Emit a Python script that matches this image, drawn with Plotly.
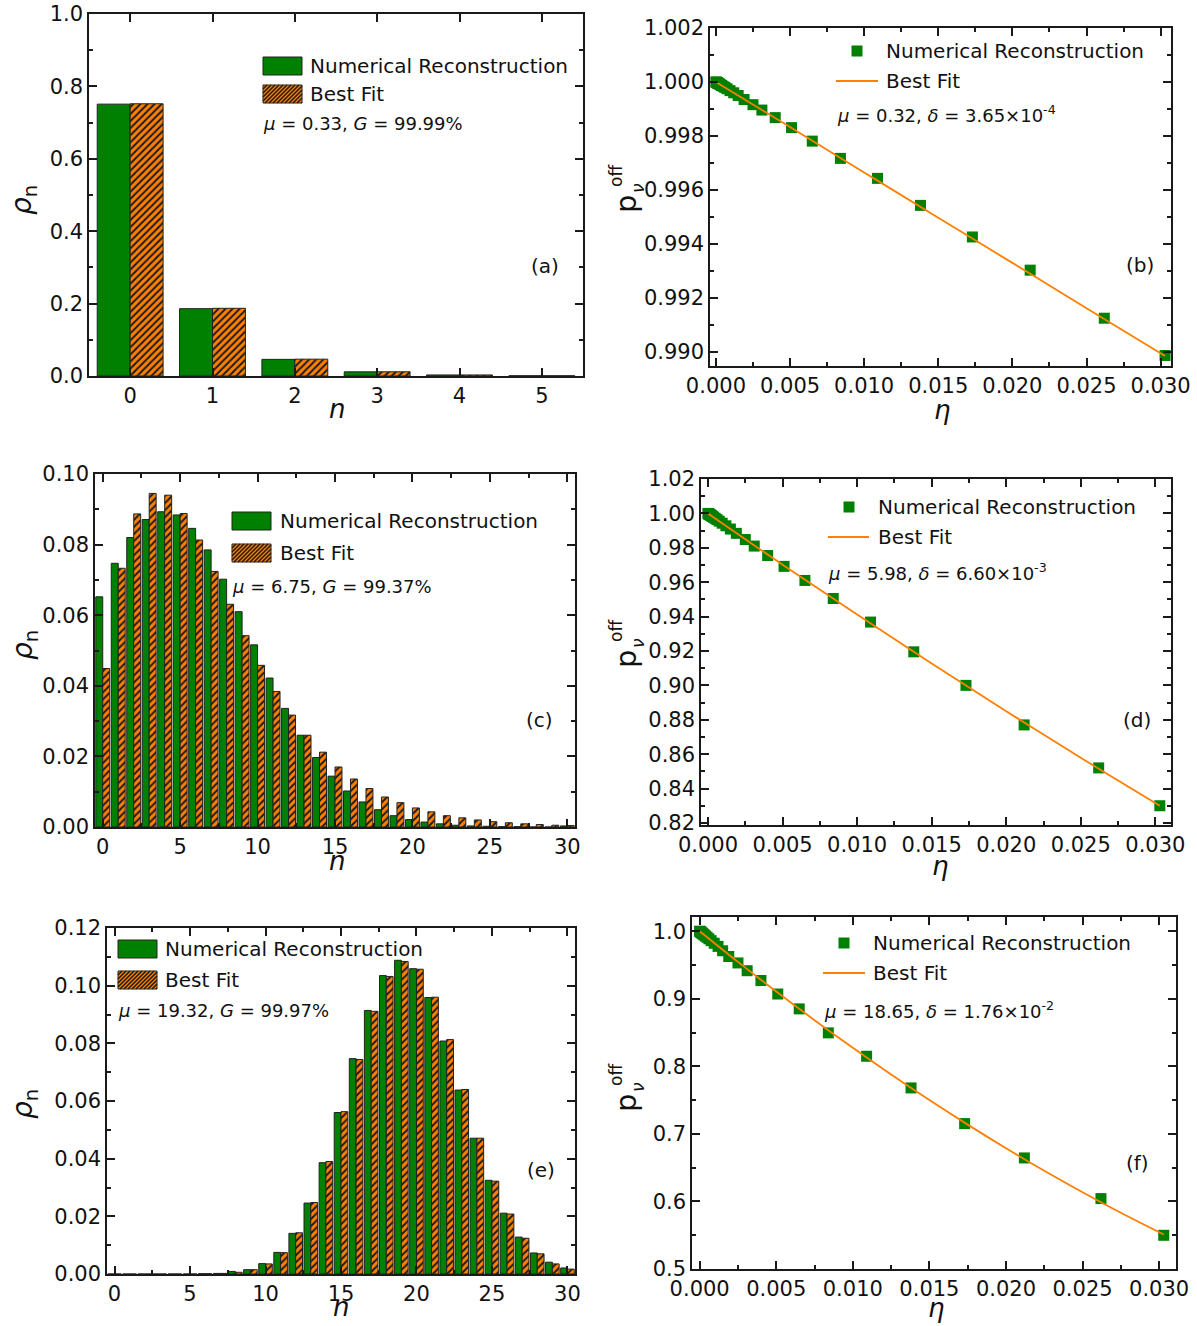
import plotly.graph_objects as go

# ---------------------------------------------------------------- data
# photon-number distributions (left column)
n_a = [0, 1, 2, 3, 4, 5]
rho_a_num = [0.751, 0.186, 0.046, 0.0115, 0.0029, 0.0007]
rho_a_fit = [0.752, 0.187, 0.0465, 0.0116, 0.0029, 0.0007]

n_c = list(range(31))
rho_c_num = [0.0652, 0.0747, 0.0820, 0.0871, 0.0893, 0.0884, 0.0846, 0.0785, 0.0702, 0.0610,
             0.0516, 0.0422, 0.0336, 0.0260, 0.0197, 0.0144, 0.0102, 0.0071, 0.0049, 0.0032,
             0.0021, 0.0014, 0.0009, 0.0005, 0.0003, 0.0002, 0.0001, 0.0001, 0.0000, 0.0000,
             0.0003]
rho_c_fit = [0.0449, 0.0733, 0.0887, 0.0945, 0.0940, 0.0888, 0.0813, 0.0724, 0.0631, 0.0542,
             0.0458, 0.0384, 0.0317, 0.0260, 0.0212, 0.0170, 0.0136, 0.0109, 0.0085, 0.0069,
             0.0054, 0.0043, 0.0032, 0.0026, 0.0020, 0.0015, 0.0012, 0.0009, 0.0007, 0.0005,
             0.0004]

n_e = list(range(31))
rho_e_num = [0.0, 0.0, 0.0, 0.0, 0.0, 0.0, 0.0001, 0.0002, 0.0009, 0.0015,
             0.0036, 0.0075, 0.0141, 0.0246, 0.0386, 0.0560, 0.0747, 0.0914, 0.1035, 0.1088,
             0.1059, 0.0959, 0.0808, 0.0638, 0.0471, 0.0325, 0.0211, 0.0128, 0.0073, 0.0041,
             0.0021]
rho_e_fit = [0.0, 0.0, 0.0, 0.0, 0.0, 0.0, 0.0001, 0.0002, 0.0006, 0.0015,
             0.0035, 0.0074, 0.0143, 0.0248, 0.0390, 0.0563, 0.0744, 0.0911, 0.1032, 0.1084,
             0.1057, 0.0960, 0.0813, 0.0640, 0.0471, 0.0322, 0.0208, 0.0124, 0.0070, 0.0035,
             0.0017]

# no-click probability versus transmittance (right column)
eta = [0.0303, 0.0262, 0.0212, 0.0173, 0.0138, 0.0109, 0.0084, 0.0065, 0.0051, 0.0040,
       0.0031, 0.0025, 0.0019, 0.0015, 0.0012, 0.00095, 0.00075, 0.0006, 0.00048, 0.00038,
       0.0003, 0.00024, 0.00019, 0.00015, 0.00012, 0.0001, 0.00008, 0.00006, 0.00004, 0.00002,
       0.0]
p_b = [0.98987, 0.99125, 0.99303, 0.99426, 0.99543, 0.99643, 0.99717, 0.99781, 0.99831, 0.99868,
       0.99896, 0.99916, 0.99935, 0.99950, 0.99960, 0.99968, 0.99975, 0.99980, 0.99984, 0.99987,
       0.99990, 0.99992, 0.99994, 0.99995, 0.99996, 0.99997, 0.99997, 0.99998, 0.99999, 0.99999,
       1.0]
p_d = [0.8300, 0.8520, 0.8770, 0.9000, 0.9195, 0.9368, 0.9505, 0.9610, 0.9692, 0.9755,
       0.9810, 0.9848, 0.9884, 0.9909, 0.9928, 0.9943, 0.9955, 0.9964, 0.9971, 0.9977,
       0.9982, 0.9986, 0.9989, 0.9991, 0.9993, 0.9994, 0.9995, 0.9996, 0.9998, 0.9999,
       1.0]
p_f = [0.5499, 0.6042, 0.6644, 0.7152, 0.7680, 0.8149, 0.8495, 0.8850, 0.9070, 0.9270,
       0.9415, 0.9530, 0.9625, 0.9710, 0.9775, 0.9822, 0.9860, 0.9888, 0.9910, 0.9929,
       0.9944, 0.9955, 0.9964, 0.9972, 0.9978, 0.9981, 0.9985, 0.9989, 0.9993, 0.9996,
       1.0]

# fitted curves
eta_fit_b = [0.0, 0.005, 0.010, 0.015, 0.020, 0.025, 0.0303]
p_fit_b = [1.0, 0.99833, 0.99665, 0.99497, 0.99330, 0.99162, 0.98985]
eta_fit_d = [0.0, 0.005, 0.010, 0.015, 0.020, 0.025, 0.0303]
p_fit_d = [1.0, 0.9702, 0.9412, 0.9127, 0.8850, 0.8579, 0.8300]
eta_fit_f = [0.0, 0.0025, 0.005, 0.0075, 0.010, 0.0125, 0.015, 0.0175, 0.020, 0.0225,
             0.025, 0.0275, 0.0303]
p_fit_f = [1.0, 0.9546, 0.9107, 0.8683, 0.8274, 0.7879, 0.7501, 0.7137, 0.6788, 0.6454,
           0.6136, 0.5832, 0.5510]

legend_num = "Numerical Reconstruction"
legend_fit = "Best Fit"
info_a = "<i>μ</i> = 0.33, <i>G</i> = 99.99%"
info_b = "<i>μ</i> = 0.32, <i>δ</i> = 3.65×10<sup>-4</sup>"
info_c = "<i>μ</i> = 6.75, <i>G</i> = 99.37%"
info_d = "<i>μ</i> = 5.98, <i>δ</i> = 6.60×10<sup>-3</sup>"
info_e = "<i>μ</i> = 19.32, <i>G</i> = 99.97%"
info_f = "<i>μ</i> = 18.65, <i>δ</i> = 1.76×10<sup>-2</sup>"

# ---------------------------------------------------------------- style
W, H = 1197, 1326
FONT = "DejaVu Sans"
AX = "#1a1a1a"
GREEN = "#008000"
ORANGE = "#FF8000"
LINE_OR = "#FF7F00"


def px(x):
    return x / W


def py(y):
    return 1 - y / H


def dom_x(x0, x1):
    return [px(x0), px(x1)]


def dom_y(y0, y1):
    return [py(y1), py(y0)]


def axis(domain, rng, anchor, dtick, minor_dtick, fmt, tick0=0.0):
    ax = dict(
        domain=domain, range=rng, anchor=anchor, tick0=tick0, dtick=dtick,
        tickmode="linear", tickformat=fmt, showline=True, linecolor=AX, linewidth=1.5,
        mirror="ticks", ticks="inside", ticklen=8, tickwidth=1.5, tickcolor=AX,
        showgrid=False, zeroline=False, automargin=False,
        tickfont=dict(family=FONT, size=21, color="#111"), fixedrange=True,
    )
    if minor_dtick:
        ax["minor"] = dict(ticks="inside", ticklen=4, tickwidth=1.5, tickcolor=AX,
                           dtick=minor_dtick, tick0=tick0, showgrid=False)
    return ax


fig = go.Figure()

bar_line = dict(color="#222222", width=1)
hatch = dict(shape="/", size=5, solidity=0.4, fgcolor="#1a1a1a", bgcolor=ORANGE)


def add_bars(n, num, fit, xa, ya, w):
    fig.add_trace(go.Bar(x=n, y=num, width=w, offset=-w, xaxis=xa, yaxis=ya,
                         marker=dict(color=GREEN, line=bar_line), showlegend=False,
                         name=legend_num))
    fig.add_trace(go.Bar(x=n, y=fit, width=w, offset=0, xaxis=xa, yaxis=ya,
                         marker=dict(color=ORANGE, line=bar_line, pattern=hatch),
                         showlegend=False, name=legend_fit))


def add_curve(e, p, ef, pf, xa, ya):
    fig.add_trace(go.Scatter(x=e, y=p, mode="markers", xaxis=xa, yaxis=ya,
                             marker=dict(symbol="square", size=11, color=GREEN,
                                         line=dict(width=0)),
                             showlegend=False, name=legend_num))
    fig.add_trace(go.Scatter(x=ef, y=pf, mode="lines", xaxis=xa, yaxis=ya,
                             line=dict(color=LINE_OR, width=1.8, shape="spline"),
                             showlegend=False, name=legend_fit))


add_bars(n_a, rho_a_num, rho_a_fit, "x", "y", 0.4)
add_curve(eta, p_b, eta_fit_b, p_fit_b, "x2", "y2")
add_bars(n_c, rho_c_num, rho_c_fit, "x3", "y3", 0.45)
add_curve(eta, p_d, eta_fit_d, p_fit_d, "x4", "y4")
add_bars(n_e, rho_e_num, rho_e_fit, "x5", "y5", 0.45)
add_curve(eta, p_f, eta_fit_f, p_fit_f, "x6", "y6")

layout = dict(
    template="none",
    width=W, height=H, autosize=False, margin=dict(l=0, r=0, t=0, b=0, pad=0),
    paper_bgcolor="white", plot_bgcolor="white", barmode="overlay",
    font=dict(family=FONT, color="#111"), showlegend=False,
)
# panel (a)
layout["xaxis"] = axis(dom_x(89, 583), [-0.5, 5.5], "y", 1, None, "d")
layout["yaxis"] = axis(dom_y(14, 376), [0, 1.0], "x", 0.2, 0.1, ".1f")
# panel (b)
layout["xaxis2"] = axis(dom_x(710, 1171), [-0.0004, 0.0307], "y2", 0.005, 0.0025, ".3f")
layout["yaxis2"] = axis(dom_y(28, 366), [0.98948, 1.002], "x2", 0.002, 0.001, ".3f", 0.990)
# panel (c)
layout["xaxis3"] = axis(dom_x(95, 575), [-0.5, 30.5], "y3", 5, 2.5, "d")
layout["yaxis3"] = axis(dom_y(474, 827), [0, 0.10], "x3", 0.02, 0.01, ".2f")
# panel (d)
layout["xaxis4"] = axis(dom_x(701, 1171), [-0.00047, 0.03105], "y4", 0.005, 0.0025, ".3f")
layout["yaxis4"] = axis(dom_y(479, 825), [0.8188, 1.02], "x4", 0.02, 0.01, ".2f", 0.82)
# panel (e)
layout["xaxis5"] = axis(dom_x(107, 575), [-0.5, 30.5], "y5", 5, 2.5, "d")
layout["yaxis5"] = axis(dom_y(928, 1274), [0, 0.12], "x5", 0.02, 0.01, ".2f")
# panel (f)
layout["xaxis6"] = axis(dom_x(692, 1176), [-0.0005, 0.0311], "y6", 0.005, 0.0025, ".3f")
layout["yaxis6"] = axis(dom_y(917, 1269), [0.5, 1.021], "x6", 0.1, 0.05, ".1f", 0.5)

annotations = []
shapes = []


def text(x, y, s, size=20, anchor="left", angle=0, italic=False):
    annotations.append(dict(
        x=px(x), y=py(y), xref="paper", yref="paper", text=s, showarrow=False,
        xanchor=anchor, yanchor="middle", textangle=angle,
        font=dict(family=FONT, size=size, color="#111",
                  style="italic" if italic else "normal"),
    ))


def path_str(points):
    return " ".join(f"{'M' if i == 0 else 'L'} {px(x):.6f} {py(y):.6f}"
                    for i, (x, y) in enumerate(points))


def green_box(x0, y0, x1, y1):
    shapes.append(dict(type="rect", xref="paper", yref="paper",
                       x0=px(x0), x1=px(x1), y0=py(y1), y1=py(y0),
                       fillcolor=GREEN, line=dict(color="#222222", width=1)))


def hatched_box(x0, y0, x1, y1, period=4.0):
    shapes.append(dict(type="rect", xref="paper", yref="paper",
                       x0=px(x0), x1=px(x1), y0=py(y1), y1=py(y0),
                       fillcolor=ORANGE, line=dict(width=0)))
    h = y1 - y0
    segs = []
    c = x0 - h
    while c < x1:
        t0 = max(0.0, (x0 - c) / h)
        t1 = min(1.0, (x1 - c) / h)
        if t1 > t0:
            a = (c + t0 * h, y1 - t0 * h)
            b = (c + t1 * h, y1 - t1 * h)
            segs.append(path_str([a, b]))
        c += period
    shapes.append(dict(type="path", xref="paper", yref="paper", path=" ".join(segs),
                       line=dict(color="#1a1a1a", width=1.5)))
    shapes.append(dict(type="rect", xref="paper", yref="paper",
                       x0=px(x0), x1=px(x1), y0=py(y1), y1=py(y0),
                       line=dict(color="#222222", width=1)))


def marker_key(cx, cy, s=11):
    shapes.append(dict(type="rect", xref="paper", yref="paper",
                       x0=px(cx - s / 2), x1=px(cx + s / 2), y0=py(cy + s / 2),
                       y1=py(cy - s / 2), fillcolor=GREEN, line=dict(width=0)))


def line_key(x0, x1, y):
    shapes.append(dict(type="line", xref="paper", yref="paper",
                       x0=px(x0), x1=px(x1), y0=py(y), y1=py(y),
                       line=dict(color=LINE_OR, width=1.8)))


def bar_legend(bx0, gy0, oy0, tx, info_x, info_y, info):
    green_box(bx0, gy0, bx0 + 39, gy0 + 18)
    text(tx, gy0 + 9, legend_num)
    hatched_box(bx0, oy0, bx0 + 39, oy0 + 18)
    text(tx, oy0 + 9, legend_fit)
    text(info_x, info_y, info, size=18)


def curve_legend(mx, my, lx0, lx1, ly, tx, info_x, info_y, info):
    marker_key(mx, my)
    text(tx, my, legend_num)
    line_key(lx0, lx1, ly)
    text(tx, ly, legend_fit)
    text(info_x, info_y, info, size=18)


bar_legend(263, 57, 85, 308, 261, 123, info_a)
bar_legend(232, 512, 544, 278, 230, 586, info_c)
bar_legend(118, 940, 971, 163, 116, 1011, info_e)
curve_legend(857, 51, 836, 878, 81, 884, 835, 114, info_b)
curve_legend(849, 507, 828, 869, 537, 876, 826, 572, info_d)
curve_legend(844, 943, 823, 865, 973, 871, 822, 1010, info_f)

# panel tags
for lab, (x, y) in {"(a)": (545, 266), "(b)": (1140, 265), "(c)": (539, 720),
                    "(d)": (1137, 720), "(e)": (541, 1170), "(f)": (1137, 1163)}.items():
    text(x, y, lab, size=20, anchor="center")

# axis titles
for (x, y) in [(337, 409), (337, 861), (341, 1307)]:
    text(x, y, "n", size=26, anchor="center", italic=True)
for (x, y) in [(942, 410), (940, 866), (936, 1308)]:
    text(x, y, "η", size=26, anchor="center", italic=True)
for (x, y) in [(23, 200), (24, 645), (24, 1104)]:
    text(x, y, "<i>ρ</i><sub>n</sub>", size=28, anchor="center", angle=-90)
for (x, y) in [(626, 204), (626, 659), (626, 1103)]:
    text(x, y, "p", size=29, anchor="center", angle=-90)
    text(x + 12, y - 16, "ν", size=17, anchor="center", angle=-90, italic=True)
    text(x - 10, y - 28, "off", size=17, anchor="center", angle=-90)

layout["annotations"] = annotations
layout["shapes"] = shapes
fig.update_layout(**layout)

fig.write_html("out.html", include_plotlyjs=True, config={"displayModeBar": False})
